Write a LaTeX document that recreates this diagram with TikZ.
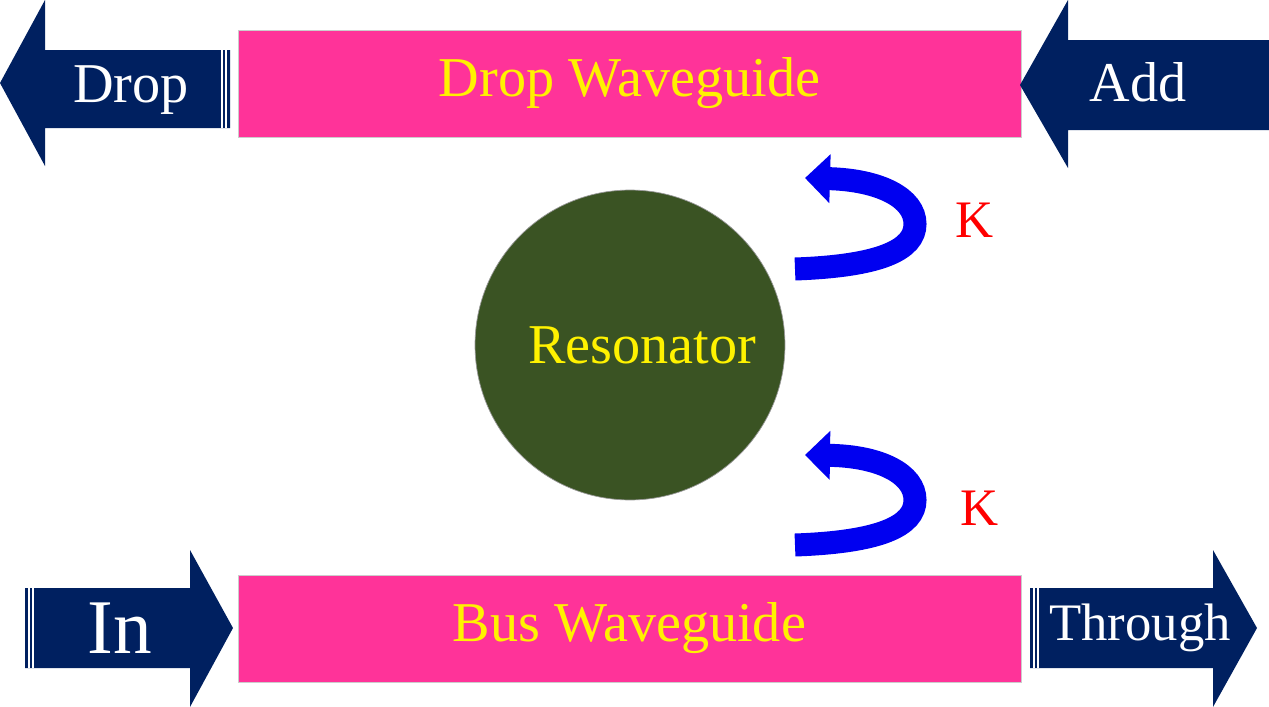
\documentclass[tikz,border=0pt]{standalone}
\usepackage{fontspec}
\setmainfont{Liberation Serif}
\usetikzlibrary{arrows.meta, positioning}
\definecolor{guidepink}{HTML}{FF3399}
\definecolor{portblue}{HTML}{002060}
\definecolor{ringgreen}{HTML}{3A5323}
\definecolor{couplblue}{HTML}{0000F0}
\tikzset{
    guidenode/.style = {draw=black!20, fill=guidepink, rectangle, minimum width=15.66cm,
      minimum height=2.14cm, text=yellow, font=\fontsize{32}{36}\selectfont},
    porttext/.style = {text=white, font=\fontsize{32}{36}\selectfont},
    portfill/.style = {fill=portblue},
    ringnode/.style = {circle, draw=black!40, fill=ringgreen, minimum size=6.2cm},
    knode/.style = {text=red, font=\fontsize{30}{34}\selectfont},
    couple/.style = {couplblue, line width=0.46cm,
      -{Triangle[width=0.95cm, length=0.5cm]}},
    tailline/.style = {white, line width=0.6pt}
}
\begin{document}
\begin{tikzpicture}[x=0.02cm, y=-0.02cm]
    \useasboundingbox (0,0) rectangle (1269,707);

    \node [name=drop, guidenode] at (629.5,83.5) {Drop Waveguide};
    \node [name=bus, guidenode] at (629.5,628.5) {Bus Waveguide};

    \node [name=ring, ringnode] at (630,345) {};
    \node [name=ringtext, text=yellow, font=\fontsize{32}{36}\selectfont] at (642,345) {Resonator};

    % ports
    \fill [portfill] (230,50) -- (45,50) -- (45,0) -- (0,83) -- (45,166) -- (45,128) -- (230,128) -- cycle;
    \fill [portfill] (1269,40) -- (1068,40) -- (1068,0) -- (1020,85) -- (1068,168) -- (1068,130) -- (1269,130) -- cycle;
    \fill [portfill] (25,588) -- (190,588) -- (190,550) -- (233,628) -- (190,707) -- (190,668) -- (25,668) -- cycle;
    \fill [portfill] (1030,588) -- (1213,588) -- (1213,550) -- (1257,628) -- (1213,707) -- (1213,668) -- (1030,668) -- cycle;
    \node [name=droptext, porttext] at (131,90) {Drop};
    \node [name=addtext, porttext] at (1138,82) {Add};
    \node [name=intext, porttext, font=\fontsize{44}{48}\selectfont] at (120,628) {In};
    \node [name=thrutext, porttext, font=\fontsize{30}{34}\selectfont] at (1140,628) {Through};

    % striped tails
    \draw [tailline] (29,588) -- (29,668);
    \draw [tailline] (33,588) -- (33,668);
    \draw [tailline] (1034,588) -- (1034,668);
    \draw [tailline] (1038,588) -- (1038,668);
    \draw [tailline] (222,50) -- (222,128);
    \draw [tailline] (226,50) -- (226,128);

    % coupling
    \coordinate (k1a) at (795,269);
    \coordinate (k1b) at (795,178);
    \coordinate (k2a) at (795,545);
    \coordinate (k2b) at (795,455);
    \draw [couple] (k1a) .. controls (880,266) and (915,250) .. (915,224)
        .. controls (915,198) and (880,180) .. ([xshift=0.2cm]k1b);
    \draw [couple] (k2a) .. controls (880,542) and (915,526) .. (915,500)
        .. controls (915,474) and (880,456) .. ([xshift=0.2cm]k2b);
    \node [name=k1, knode] at (975,220) {K};
    \node [name=k2, knode] at (980,508) {K};
\end{tikzpicture}
\end{document}
